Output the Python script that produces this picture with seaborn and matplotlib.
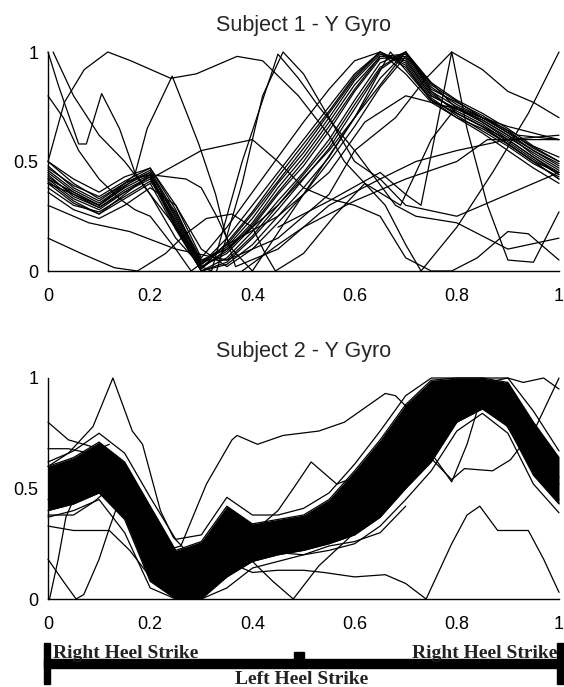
import numpy as np
import pandas as pd
import matplotlib
matplotlib.use("Agg")
import matplotlib.pyplot as plt
import seaborn as sns
from matplotlib.patches import Rectangle

# ---------------- data ----------------
grid = [0.0, 0.05, 0.10, 0.15, 0.20, 0.25, 0.30, 0.35, 0.40, 0.45, 0.50,
        0.55, 0.60, 0.65, 0.70, 0.75, 0.80, 0.85, 0.90, 0.95, 1.0]

# Subject 1 - main bundle (on common grid)
s1_b01 = [0.50,0.40,0.33,0.40,0.45,0.25,0.03,0.15,0.30,0.45,0.60,0.75,0.90,1.00,0.93,0.78,0.72,0.66,0.58,0.50,0.42]
s1_b02 = [0.45,0.36,0.30,0.38,0.44,0.22,0.01,0.10,0.22,0.38,0.52,0.68,0.85,0.98,0.97,0.80,0.74,0.68,0.60,0.52,0.45]
s1_b03 = [0.42,0.33,0.28,0.36,0.42,0.20,0.00,0.06,0.18,0.32,0.45,0.60,0.78,0.95,1.00,0.82,0.75,0.68,0.61,0.54,0.47]
s1_b04 = [0.48,0.38,0.32,0.40,0.46,0.26,0.04,0.12,0.26,0.41,0.56,0.72,0.88,1.00,0.95,0.79,0.71,0.64,0.57,0.49,0.43]
s1_b05 = [0.40,0.31,0.26,0.33,0.40,0.19,0.00,0.04,0.15,0.28,0.42,0.56,0.74,0.92,1.00,0.84,0.76,0.70,0.63,0.55,0.48]
s1_b06 = [0.46,0.37,0.31,0.39,0.45,0.24,0.02,0.08,0.20,0.35,0.48,0.64,0.82,0.97,0.98,0.81,0.73,0.67,0.59,0.51,0.44]
s1_b07 = [0.44,0.34,0.29,0.37,0.43,0.21,0.01,0.13,0.27,0.43,0.58,0.73,0.89,1.00,0.94,0.78,0.70,0.65,0.58,0.50,0.45]
s1_b08 = [0.38,0.30,0.27,0.34,0.41,0.27,0.05,0.05,0.16,0.30,0.44,0.58,0.76,0.93,1.00,0.83,0.77,0.71,0.64,0.56,0.50]
s1_b09 = [0.47,0.39,0.34,0.41,0.47,0.28,0.03,0.11,0.24,0.40,0.54,0.70,0.87,0.99,0.96,0.80,0.74,0.69,0.62,0.53,0.46]
s1_b10 = [0.43,0.35,0.29,0.36,0.43,0.23,0.02,0.09,0.21,0.36,0.50,0.66,0.83,0.98,0.99,0.82,0.72,0.66,0.60,0.52,0.44]
s1_b11 = [0.36,0.28,0.24,0.30,0.38,0.30,0.10,0.02,0.10,0.22,0.35,0.50,0.66,0.84,0.98,0.86,0.78,0.72,0.65,0.57,0.52]
s1_b12 = [0.50,0.42,0.36,0.43,0.47,0.30,0.06,0.20,0.36,0.52,0.68,0.83,0.96,1.00,0.90,0.77,0.70,0.63,0.55,0.47,0.40]
s1_b13 = [0.41,0.32,0.26,0.35,0.44,0.20,0.00,0.03,0.12,0.25,0.38,0.52,0.70,0.88,1.00,0.86,0.74,0.69,0.62,0.55,0.49]
s1_bundle = [s1_b01, s1_b02, s1_b03, s1_b04, s1_b05, s1_b06, s1_b07, s1_b08, s1_b09,
             s1_b10, s1_b11, s1_b12, s1_b13]

# Subject 1 - stray traces (own breakpoints)
s1_a_x = [0.0, 0.032, 0.071, 0.117, 0.162, 0.24, 0.29, 0.37, 0.42, 0.49, 0.55, 0.58, 0.62, 0.66, 0.70, 0.73, 0.80, 0.87, 0.94, 1.0]
s1_a_y = [0.50, 0.77, 0.92, 1.00, 0.96, 0.88, 0.90, 0.98, 0.96, 0.80, 0.62, 0.50, 0.40, 0.30, 0.12, 0.00, 0.20, 0.45, 0.72, 1.00]
s1_b_x = [0.0, 0.10, 0.17, 0.194, 0.243, 0.27, 0.295, 0.328, 0.347, 0.367, 0.45, 0.55, 0.65, 0.72, 0.80, 0.90, 1.0]
s1_b_y = [0.42, 0.30, 0.44, 0.65, 0.89, 0.73, 0.58, 0.35, 0.17, 0.02, 0.10, 0.30, 0.42, 0.50, 0.55, 0.60, 0.62]
s1_c_x = [0.0, 0.02, 0.06, 0.075, 0.105, 0.14, 0.17, 0.20, 0.25, 0.30, 0.35, 0.45, 0.55, 0.65, 0.70, 0.75, 0.85, 1.0]
s1_c_y = [1.00, 0.85, 0.58, 0.58, 0.81, 0.65, 0.45, 0.35, 0.20, 0.05, 0.10, 0.30, 0.55, 0.85, 1.00, 0.85, 0.70, 0.50]
s1_d_x = [0.01, 0.05, 0.10, 0.15, 0.20, 0.25, 0.30, 0.32, 0.38, 0.45, 0.49, 0.53, 0.60, 0.68, 0.72, 0.80, 0.90, 1.0]
s1_d_y = [1.00, 0.80, 0.62, 0.50, 0.35, 0.15, 0.02, 0.00, 0.50, 0.99, 0.88, 0.75, 0.55, 0.30, 0.25, 0.22, 0.10, 0.15]
s1_e_x = [0.0, 0.065, 0.13, 0.175, 0.23, 0.27, 0.31, 0.36, 0.40, 0.425, 0.445, 0.50, 0.56, 0.62, 0.69, 0.75, 0.80, 0.85, 0.92, 1.0]
s1_e_y = [0.15, 0.08, 0.015, 0.00, 0.08, 0.17, 0.24, 0.26, 0.20, 0.08, 0.00, 0.08, 0.25, 0.40, 0.30, 0.60, 0.75, 0.70, 0.62, 0.60]
s1_f_x = [0.0, 0.08, 0.16, 0.25, 0.35, 0.45, 0.55, 0.60, 0.68, 0.74, 0.79, 0.85, 0.90, 0.95, 1.0]
s1_f_y = [0.30, 0.22, 0.18, 0.10, 0.05, 0.15, 0.35, 0.55, 0.70, 0.88, 1.00, 0.92, 0.82, 0.77, 0.70]
s1_g_x = [0.45, 0.55, 0.65, 0.70, 0.73, 0.79, 0.82, 0.86, 0.90, 0.95, 1.0]
s1_g_y = [0.20, 0.32, 0.45, 0.35, 0.30, 1.00, 0.65, 0.30, 0.05, 0.04, 0.27]
s1_h_x = [0.38, 0.45, 0.50, 0.60, 0.70, 0.80, 0.86, 0.93, 1.0]
s1_h_y = [0.00, 0.12, 0.20, 0.32, 0.42, 0.50, 0.60, 0.60, 0.60]
s1_i_x = [0.20, 0.30, 0.40, 0.45, 0.50, 0.55, 0.60, 0.65, 0.70, 0.75, 0.79, 0.84, 0.90, 0.94, 1.0]
s1_i_y = [0.42, 0.55, 0.60, 0.50, 0.38, 0.33, 0.30, 0.25, 0.06, 0.00, 0.00, 0.06, 0.18, 0.17, 0.05]
s1_j_x = [0.0, 0.10, 0.17, 0.20, 0.27, 0.30, 0.33, 0.36, 0.40, 0.50, 0.60, 0.67, 0.75, 0.85, 1.0]
s1_j_y = [0.40, 0.30, 0.42, 0.44, 0.42, 0.38, 0.25, 0.10, 0.00, 0.35, 0.70, 1.00, 0.78, 0.66, 0.42]
s1_k_x = [0.0, 0.03, 0.06, 0.10, 0.14, 0.17, 0.20, 0.25, 0.28, 0.35, 0.45, 0.55, 0.62, 0.70, 0.80, 0.90, 1.0]
s1_k_y = [0.80, 0.70, 0.55, 0.42, 0.33, 0.28, 0.25, 0.10, 0.00, 0.12, 0.25, 0.45, 0.68, 0.80, 0.74, 0.66, 0.60]
s1_l_x = [0.33, 0.38, 0.42, 0.46, 0.50, 0.55, 0.60, 0.65, 0.70, 0.80, 0.90, 1.0]
s1_l_y = [0.00, 0.40, 0.80, 1.00, 0.90, 0.70, 0.50, 0.42, 0.30, 0.25, 0.35, 0.45]
s1_stray = [(s1_a_x, s1_a_y), (s1_b_x, s1_b_y), (s1_c_x, s1_c_y), (s1_d_x, s1_d_y),
            (s1_e_x, s1_e_y), (s1_f_x, s1_f_y), (s1_g_x, s1_g_y), (s1_h_x, s1_h_y),
            (s1_i_x, s1_i_y), (s1_j_x, s1_j_y), (s1_k_x, s1_k_y), (s1_l_x, s1_l_y)]

# Subject 2 - dense bundle envelope (common grid)
s2_upper = [0.60,0.64,0.71,0.62,0.42,0.22,0.26,0.42,0.34,0.36,0.38,0.45,0.58,0.72,0.88,0.99,1.00,1.00,0.98,0.80,0.64]
s2_lower = [0.40,0.43,0.48,0.36,0.08,0.00,0.00,0.10,0.17,0.20,0.22,0.25,0.29,0.37,0.50,0.62,0.80,0.86,0.78,0.56,0.43]
s2_edge_hi = [0.62,0.67,0.75,0.66,0.46,0.27,0.29,0.46,0.38,0.38,0.41,0.48,0.61,0.76,0.92,1.00,1.00,1.00,1.00,0.85,0.67]
s2_edge_lo = [0.37,0.40,0.45,0.30,0.05,0.00,0.00,0.05,0.14,0.17,0.20,0.22,0.25,0.33,0.45,0.58,0.76,0.84,0.75,0.52,0.39]
s2_bundle = [s2_upper, s2_lower, s2_edge_hi, s2_edge_lo]

# Subject 2 - stray traces
s2_a_x = [0.0, 0.04, 0.088, 0.127, 0.165, 0.185, 0.22, 0.245, 0.27, 0.30, 0.35, 0.40, 0.45, 0.50, 0.60, 0.70, 0.80, 0.85, 0.90, 0.95, 1.0]
s2_a_y = [0.60, 0.66, 0.78, 1.00, 0.76, 0.70, 0.40, 0.28, 0.22, 0.25, 0.38, 0.30, 0.28, 0.30, 0.42, 0.70, 0.95, 1.00, 0.90, 0.68, 0.52]
s2_b_x = [0.0, 0.10, 0.15, 0.20, 0.26, 0.31, 0.36, 0.37, 0.41, 0.46, 0.53, 0.58, 0.66, 0.68, 0.71, 0.80, 0.88, 0.95, 1.0]
s2_b_y = [0.45, 0.55, 0.40, 0.20, 0.24, 0.52, 0.72, 0.74, 0.70, 0.74, 0.76, 0.80, 0.93, 0.92, 0.85, 0.98, 0.96, 0.70, 0.55]
s2_c_x = [0.0, 0.04, 0.10, 0.15, 0.20, 0.25]
s2_c_y = [0.80, 0.72, 0.68, 0.55, 0.35, 0.15]
s2_d_x = [0.0, 0.04, 0.08, 0.12]
s2_d_y = [0.68, 0.68, 0.66, 0.70]
s2_e_x = [0.0, 0.05, 0.09, 0.12]
s2_e_y = [0.38, 0.38, 0.44, 0.50]
s2_f_x = [0.0, 0.05, 0.10, 0.12, 0.16, 0.20, 0.24]
s2_f_y = [0.33, 0.31, 0.31, 0.31, 0.22, 0.10, 0.02]
s2_g_x = [0.0, 0.03, 0.055, 0.07, 0.10, 0.12, 0.14, 0.17]
s2_g_y = [0.18, 0.08, 0.00, 0.02, 0.18, 0.32, 0.45, 0.40]
s2_h_x = [0.003, 0.02, 0.035, 0.05]
s2_h_y = [0.00, 0.18, 0.37, 0.45]
s2_i_x = [0.25, 0.30, 0.36, 0.40, 0.45, 0.50, 0.54, 0.60, 0.66, 0.70, 0.74, 0.79, 0.82, 0.845, 0.88, 0.94, 0.97, 1.0]
s2_i_y = [0.05, 0.08, 0.16, 0.12, 0.13, 0.13, 0.12, 0.10, 0.11, 0.07, 0.00, 0.25, 0.38, 0.42, 0.31, 0.31, 0.18, 0.03]
s2_j_x = [0.35, 0.40, 0.44, 0.48, 0.53, 0.60, 0.65]
s2_j_y = [0.30, 0.17, 0.08, 0.00, 0.15, 0.30, 0.38]
s2_k_x = [0.40, 0.45, 0.48, 0.515, 0.565, 0.60, 0.65, 0.70]
s2_k_y = [0.30, 0.40, 0.50, 0.62, 0.52, 0.55, 0.62, 0.72]
s2_l_x = [0.65, 0.70, 0.74, 0.79, 0.815, 0.87, 0.905, 0.955, 1.0]
s2_l_y = [0.55, 0.62, 0.66, 0.54, 0.59, 0.58, 0.63, 0.78, 1.00]
s2_m_x = [0.70, 0.75, 0.79, 0.82, 0.85, 0.88, 0.92, 0.96, 1.0]
s2_m_y = [0.70, 0.66, 0.53, 0.70, 0.93, 0.85, 0.70, 0.55, 0.45]
s2_n_x = [0.86, 0.90, 0.93, 0.97, 1.0]
s2_n_y = [0.98, 1.00, 0.98, 1.00, 0.95]
s2_o_x = [0.45, 0.50, 0.55, 0.60, 0.65, 0.70]
s2_o_y = [0.21, 0.20, 0.24, 0.26, 0.30, 0.42]
s2_stray = [(s2_a_x, s2_a_y), (s2_b_x, s2_b_y), (s2_c_x, s2_c_y), (s2_d_x, s2_d_y),
            (s2_e_x, s2_e_y), (s2_f_x, s2_f_y), (s2_g_x, s2_g_y), (s2_h_x, s2_h_y),
            (s2_i_x, s2_i_y), (s2_j_x, s2_j_y), (s2_k_x, s2_k_y), (s2_l_x, s2_l_y),
            (s2_m_x, s2_m_y), (s2_n_x, s2_n_y), (s2_o_x, s2_o_y)]

titles = ["Subject 1 - Y Gyro", "Subject 2 - Y Gyro"]
xticks = [0.0, 0.2, 0.4, 0.6, 0.8, 1.0]
xticklabels = ["0", "0.2", "0.4", "0.6", "0.8", "1"]
yticks = [0.0, 0.5, 1.0]
yticklabels = ["0", "0.5", "1"]

# gait events along the cycle
event_labels = ["Right Heel Strike", "Left Heel Strike", "Right Heel Strike"]
event_pos = [0.0, 0.49, 1.0]


def long_frame(bundle, stray):
    rows = []
    for i, ys in enumerate(bundle):
        for x, y in zip(grid, ys):
            rows.append(("b%d" % i, x, y))
    for i, (xs, ys) in enumerate(stray):
        for x, y in zip(xs, ys):
            rows.append(("s%d" % i, x, y))
    return pd.DataFrame(rows, columns=["curve", "x", "y"])


sns.set_style("white")
plt.rcParams["font.family"] = ["Liberation Sans", "DejaVu Sans"]

W, H = 564, 687
AX_L, AX_W = 48, 511          # pixel left edge and width of the plot area
fig = plt.figure(figsize=(W / 100, H / 100), dpi=100)
ax1 = fig.add_axes([AX_L / W, 1 - 271 / H, AX_W / W, 219 / H])
ax2 = fig.add_axes([AX_L / W, 1 - 599 / H, AX_W / W, 221 / H])

df1 = long_frame(s1_bundle, s1_stray)
df2 = long_frame(s2_bundle, s2_stray)

ax2.fill_between(grid, s2_lower, s2_upper, color="black", linewidth=0)

for ax, df, title in [(ax1, df1, titles[0]), (ax2, df2, titles[1])]:
    sns.lineplot(data=df, x="x", y="y", units="curve", estimator=None, sort=False,
                 color="black", linewidth=0.9, ax=ax, legend=False)
    for ln in ax.lines:
        ln.set_clip_on(False)
    ax.set_xlim(0, 1)
    ax.set_ylim(0, 1)
    ax.set_xlabel("")
    ax.set_ylabel("")
    ax.set_xticks(xticks)
    ax.set_xticklabels(xticklabels)
    ax.set_yticks(yticks)
    ax.set_yticklabels(yticklabels)
    ax.tick_params(direction="in", length=4, width=0.8, labelsize=13, colors="black")
    ax.tick_params(axis="x", pad=12)
    ax.tick_params(axis="y", pad=7)
    for s in ["top", "right"]:
        ax.spines[s].set_visible(False)
    for s in ["left", "bottom"]:
        ax.spines[s].set_color("black")
        ax.spines[s].set_linewidth(1.0)
    ax.set_title(title, fontsize=15.5, pad=15)

# timeline annotation
axt = fig.add_axes([AX_L / W, 0, AX_W / W, 47 / H])
axt.set_xlim(0, 1)
axt.set_ylim(687, 640)
axt.axis("off")
px = lambda p: (p - AX_L) / AX_W
axt.add_patch(Rectangle((px(44), 659), px(563) - px(44), 9, color="black", clip_on=False))
axt.add_patch(Rectangle((px(44), 643), 6 / AX_W, 41, color="black", clip_on=False))
axt.add_patch(Rectangle((px(557), 643), 6 / AX_W, 41, color="black", clip_on=False))
axt.add_patch(Rectangle((px(294), 652), 10 / AX_W, 7, color="black", clip_on=False))
tkw = dict(family=["Liberation Serif", "DejaVu Serif"], weight="bold", fontsize=14, color="#222222")
axt.text(px(53), 657.5, event_labels[0], ha="left", va="baseline", **tkw)
axt.text(px(557), 657.5, event_labels[2], ha="right", va="baseline", **tkw)
axt.text(px(302), 684.5, event_labels[1], ha="center", va="baseline", **tkw)

fig.savefig("out.png", dpi=100)
